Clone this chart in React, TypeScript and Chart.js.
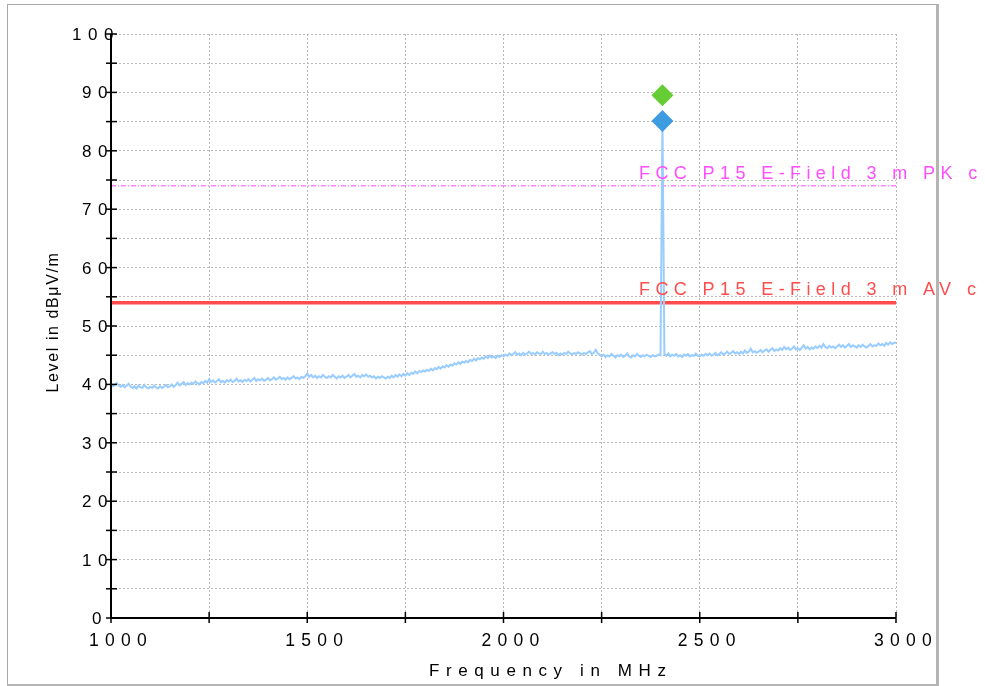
import React, { useEffect, useRef } from 'react';
import { Chart, registerables } from 'chart.js';

Chart.register(...registerables);

// ---- data ----
const FREQ_START_MHZ = 1000;
const FREQ_STEP_MHZ = 5;
// measured level, one row per 50 MHz (10 sweep points each)
const LEVEL_DBUV = [
  40.0, 39.7, 39.9, 40.2, 39.8, 39.6, 39.9, 39.5, 39.8, 40.1, // 1000
  39.6, 39.4, 39.7, 39.3, 39.8, 39.5, 39.4, 39.9, 39.5, 39.3, // 1050
  39.6, 39.4, 39.8, 39.5, 39.3, 39.7, 39.4, 39.6, 39.9, 39.5, // 1100
  39.7, 40.0, 39.6, 39.9, 40.3, 39.8, 40.1, 40.4, 39.9, 40.2, // 1150
  40.0, 40.3, 40.1, 40.5, 40.2, 40.0, 40.4, 40.2, 40.6, 40.3, // 1200
  40.9, 40.4, 40.7, 40.3, 40.6, 40.9, 40.4, 40.6, 40.3, 40.7, // 1250
  40.5, 40.8, 40.4, 40.6, 41.0, 40.5, 40.7, 40.4, 40.8, 40.6, // 1300
  40.9, 40.5, 40.8, 41.1, 40.6, 40.9, 40.7, 41.0, 40.6, 40.8, // 1350
  41.1, 40.7, 40.9, 41.2, 40.8, 41.0, 41.3, 40.9, 41.1, 40.8, // 1400
  41.2, 40.9, 41.1, 41.4, 41.0, 41.2, 40.9, 41.3, 41.1, 41.4, // 1450
  41.9, 41.3, 41.6, 41.2, 41.5, 41.1, 41.4, 41.2, 41.6, 41.3, // 1500
  41.1, 41.4, 41.2, 41.6, 41.3, 41.0, 41.4, 41.2, 41.5, 41.1, // 1550
  41.3, 41.6, 41.2, 41.5, 41.8, 41.3, 41.5, 41.2, 41.6, 41.4, // 1600
  41.7, 41.3, 41.5, 41.2, 41.4, 41.0, 41.3, 41.1, 41.4, 41.2, // 1650
  41.0, 41.3, 41.1, 41.5, 41.2, 41.6, 41.3, 41.7, 41.4, 41.8, // 1700
  41.5, 41.9, 41.6, 42.0, 41.8, 42.2, 41.9, 42.3, 42.1, 42.4, // 1750
  42.2, 42.5, 42.3, 42.7, 42.4, 42.8, 42.6, 43.0, 42.7, 43.1, // 1800
  42.9, 43.3, 43.0, 43.4, 43.2, 43.6, 43.4, 43.8, 43.5, 43.9, // 1850
  43.7, 44.0, 43.8, 44.2, 44.0, 44.4, 44.1, 44.5, 44.3, 44.6, // 1900
  44.4, 44.8, 44.5, 44.9, 44.6, 44.8, 44.5, 44.9, 44.7, 45.0, // 1950
  44.8, 45.1, 44.9, 45.3, 45.0, 45.2, 45.5, 45.1, 45.3, 45.0, // 2000
  45.4, 45.1, 45.3, 45.6, 45.2, 45.4, 45.1, 45.5, 45.3, 45.2, // 2050
  45.6, 45.2, 45.4, 45.1, 45.3, 45.5, 45.2, 45.4, 45.0, 45.3, // 2100
  45.1, 45.4, 45.2, 45.6, 45.3, 45.1, 45.4, 45.2, 45.5, 45.3, // 2150
  45.1, 45.4, 45.2, 45.5, 45.7, 45.2, 45.4, 45.9, 45.3, 45.1, // 2200
  44.8, 45.1, 44.7, 45.0, 44.8, 45.2, 44.9, 44.6, 45.0, 44.8, // 2250
  45.1, 44.7, 44.9, 45.3, 44.8, 44.6, 45.0, 44.8, 45.2, 44.9, // 2300
  44.7, 45.0, 44.8, 45.1, 44.9, 44.7, 45.0, 44.8, 44.9, 45.1, // 2350
  45.0, 85.1, 45.2, 44.9, 45.3, 44.8, 45.1, 44.9, 45.2, 44.8, // 2400
  45.0, 44.7, 45.1, 44.9, 45.2, 44.8, 45.0, 44.9, 45.3, 44.9, // 2450
  44.8, 45.1, 44.9, 45.2, 45.0, 45.3, 44.9, 45.1, 45.4, 45.0, // 2500
  45.2, 45.5, 45.1, 45.3, 45.6, 45.2, 45.4, 45.7, 45.3, 45.5, // 2550
  45.2, 45.6, 45.3, 45.8, 45.4, 45.6, 46.1, 45.5, 45.7, 45.4, // 2600
  45.6, 45.9, 45.5, 45.8, 46.0, 45.6, 45.9, 46.2, 45.7, 46.0, // 2650
  45.8, 46.2, 45.9, 46.4, 46.0, 46.3, 45.9, 46.1, 46.5, 46.0, // 2700
  46.2, 45.9, 46.3, 46.7, 46.1, 46.4, 46.0, 46.3, 46.1, 46.5, // 2750
  46.2, 46.6, 46.3, 46.9, 46.4, 46.2, 46.6, 46.3, 46.5, 46.2, // 2800
  46.5, 46.8, 46.4, 46.7, 46.3, 46.6, 46.9, 46.4, 46.7, 46.5, // 2850
  46.3, 46.7, 46.4, 46.8, 46.5, 46.3, 46.6, 46.9, 46.5, 46.7, // 2900
  46.6, 47.0, 46.7, 46.9, 46.6, 47.1, 46.8, 47.2, 46.9, 47.1, // 2950
  47.2, // 3000
];

const MARKER_FREQ_MHZ = [2405, 2405];
const MARKER_LEVEL_DBUV = [89.5, 85.1];
const MARKER_COLORS = ['#66cc33', '#3d9be0'];

const PK_LIMIT_DBUV = 74;
const AV_LIMIT_DBUV = 54;
const PK_LABEL = 'FCC P15 E-Field 3 m PK c';
const AV_LABEL = 'FCC P15 E-Field 3 m AV c';

const X_MIN = 1000;
const X_MAX = 3000;
const Y_MIN = 0;
const Y_MAX = 100;
const X_STEP = 250;
const Y_STEP = 5;
const X_LABELS = ['1000', '1500', '2000', '2500', '3000'];
const Y_LABELS = ['0', '10', '20', '30', '40', '50', '60', '70', '80', '90', '100'];
const X_TITLE = 'Frequency in MHz';
const Y_TITLE = 'Level in dBμV/m';

const FONT = '"Liberation Sans", Arial, sans-serif';

const overlayPlugin = {
  id: 'overlay',
  afterDraw(chart: any) {
    const ctx: CanvasRenderingContext2D = chart.ctx;
    const xs = chart.scales.x;
    const ys = chart.scales.y;
    const x0 = xs.getPixelForValue(X_MIN);
    const x1 = xs.getPixelForValue(X_MAX);
    const y0 = ys.getPixelForValue(Y_MIN);
    const y1 = ys.getPixelForValue(Y_MAX);
    const line = (ax: number, ay: number, bx: number, by: number) => {
      ctx.beginPath();
      ctx.moveTo(ax, ay);
      ctx.lineTo(bx, by);
      ctx.stroke();
    };
    ctx.save();
    const ls = (v: number) => {
      (ctx as any).letterSpacing = v + 'px';
    };

    // outer frame
    ctx.strokeStyle = '#a8a8a8';
    ctx.lineWidth = 1;
    ctx.strokeRect(7.5, 4.5, 929, 680);
    ctx.strokeStyle = '#b4b4b4';
    ctx.lineWidth = 3;
    line(937.5, 4, 937.5, 686);
    ctx.lineWidth = 2;
    line(7, 685, 939, 685);

    // axes
    ctx.strokeStyle = '#000';
    ctx.lineWidth = 2;
    line(x0, y1, x0, y0 + 1);
    line(x0 - 1, y0, x1, y0);

    // tick marks
    ctx.lineWidth = 1.5;
    ys.ticks.forEach((t: any) => {
      const y = ys.getPixelForValue(t.value);
      line(x0 - 5, y, x0 + 6, y);
    });
    xs.ticks.forEach((t: any) => {
      const x = xs.getPixelForValue(t.value);
      line(x, y0 - 6, x, y0 + 5);
    });

    // tick labels
    ctx.fillStyle = '#000';
    ctx.font = '17px ' + FONT;
    ctx.textBaseline = 'alphabetic';
    ctx.textAlign = 'left';
    ls(6.5);
    Y_LABELS.forEach((s) => {
      const y = ys.getPixelForValue(Number(s));
      ctx.fillText(s, x0 - 9 - 10 * s.length, y + 6);
    });
    ls(6.3);
    ctx.font = '17.5px ' + FONT;
    X_LABELS.forEach((s) => {
      const x = xs.getPixelForValue(Number(s));
      ctx.fillText(s, x - 22, y0 + 28);
    });

    // axis titles
    ctx.font = '17px ' + FONT;
    ls(6.6);
    ctx.fillText(X_TITLE, 429, 676);

    ctx.save();
    ctx.font = '16px ' + FONT;
    ls(1.6);
    ctx.translate(58, (y0 + y1) / 2 - 4);
    ctx.rotate(-Math.PI / 2);
    ctx.textAlign = 'center';
    ctx.fillText(Y_TITLE, 0, 0);
    ctx.restore();

    // limit labels
    ctx.font = '18px ' + FONT;
    ls(5.4);
    ctx.textAlign = 'left';
    ctx.fillStyle = '#ff4dff';
    ctx.fillText(PK_LABEL, x1 - 257, ys.getPixelForValue(PK_LIMIT_DBUV) - 6.5);
    ctx.fillStyle = '#ff4d4d';
    ctx.fillText(AV_LABEL, x1 - 257, ys.getPixelForValue(AV_LIMIT_DBUV) - 7.5);

    ls(0);
    ctx.restore();
  },
};

export default function App() {
  const ref = useRef<HTMLCanvasElement | null>(null);

  useEffect(() => {
    if (!ref.current) return;
    const trace = LEVEL_DBUV.map((v, i) => ({ x: FREQ_START_MHZ + i * FREQ_STEP_MHZ, y: v }));
    const markers = MARKER_FREQ_MHZ.map((f, i) => ({ x: f, y: MARKER_LEVEL_DBUV[i] }));
    const chart = new Chart(ref.current, {
      type: 'line',
      data: {
        datasets: [
          {
            label: 'Markers',
            data: markers,
            showLine: false,
            pointStyle: 'rectRot',
            pointRadius: 11,
            pointBackgroundColor: MARKER_COLORS,
            pointBorderColor: MARKER_COLORS,
            pointBorderWidth: 0,
          },
          {
            label: 'Trace',
            data: trace,
            borderColor: '#99ccff',
            borderWidth: 2,
            pointRadius: 0,
            tension: 0,
          },
          {
            label: 'PK limit',
            data: [
              { x: X_MIN, y: PK_LIMIT_DBUV },
              { x: X_MAX, y: PK_LIMIT_DBUV },
            ],
            borderColor: '#ff44ff',
            borderWidth: 1,
            borderDash: [5, 2, 1, 2],
            pointRadius: 0,
          },
          {
            label: 'AV limit',
            data: [
              { x: X_MIN, y: AV_LIMIT_DBUV },
              { x: X_MAX, y: AV_LIMIT_DBUV },
            ],
            borderColor: '#ff4d4d',
            borderWidth: 3.5,
            pointRadius: 0,
          },
        ],
      },
      options: {
        animation: false,
        responsive: false,
        events: [],
        layout: { padding: { top: 34, right: 89, left: 0, bottom: 0 } },
        plugins: { legend: { display: false }, tooltip: { enabled: false } },
        scales: {
          x: {
            type: 'linear',
            min: X_MIN,
            max: X_MAX,
            afterFit: (s: any) => {
              s.height = 68;
            },
            ticks: { display: false, stepSize: X_STEP },
            grid: { color: '#b8b8b8', lineWidth: 1, drawTicks: false },
            border: { display: false, dash: [2, 2] },
          },
          y: {
            type: 'linear',
            min: Y_MIN,
            max: Y_MAX,
            afterFit: (s: any) => {
              s.width = 111;
            },
            ticks: { display: false, stepSize: Y_STEP },
            grid: { color: '#b8b8b8', lineWidth: 1, drawTicks: false },
            border: { display: false, dash: [2, 2] },
          },
        },
      },
      plugins: [overlayPlugin],
    } as any);
    return () => chart.destroy();
  }, []);

  return (
    <div style={{ position: 'absolute', left: 0, top: 0, width: 985, height: 686, background: '#fff' }}>
      <canvas ref={ref} width={985} height={686} style={{ display: 'block', width: 985, height: 686 }} />
    </div>
  );
}
